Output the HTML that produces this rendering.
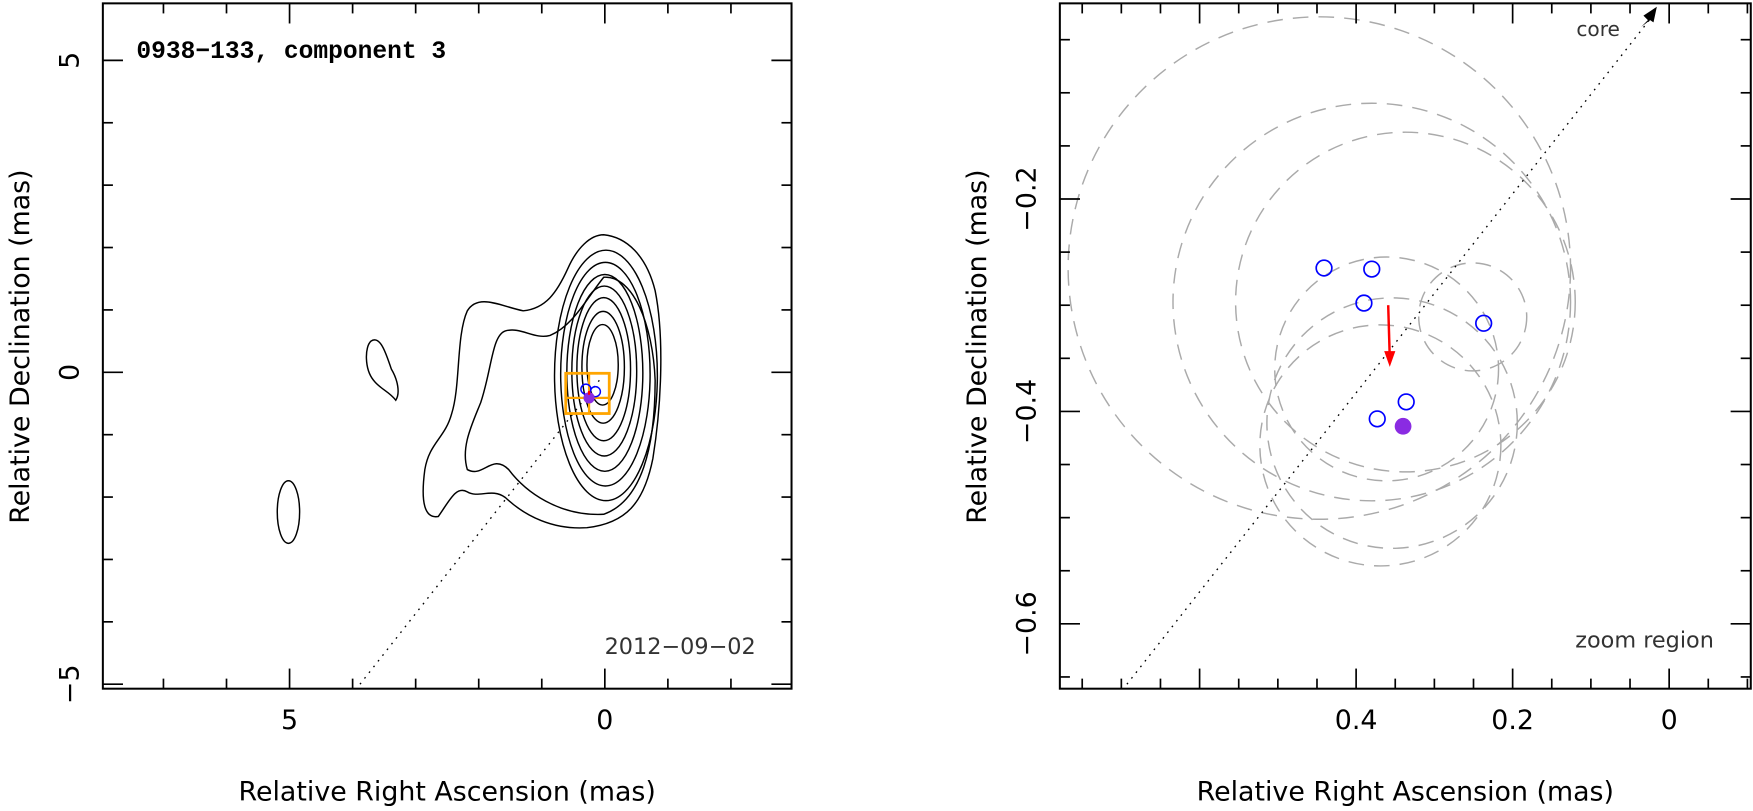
<!DOCTYPE html>
<html><head><meta charset="utf-8">
<style>
html,body{margin:0;padding:0;background:#fff;}
svg{display:block;font-family:"DejaVu Sans","Liberation Sans",sans-serif;}
</style></head>
<body>
<svg id="fig" width="1753" height="811" viewBox="0 0 1568 725.4" preserveAspectRatio="none" xmlns="http://www.w3.org/2000/svg">
<g id="left"></g>
<g id="right"></g>
</svg>
<script>
// ---------- LEFT PANEL DATA ----------
const leftXTicks = [5, 0];
const leftYTicks = [5, 0, -5];
const contourRx = [46, 40, 34, 29, 24, 19, 14];
const contourRy = [112, 100, 88, 76, 64, 50, 36];
const contourCy = [-0.05, -0.03, -0.01, 0.02, 0.05, 0.08, 0.12];
const leftCompRA = [0.3, 0.15];
const leftCompDec = [-0.27, -0.31];
const leftFilledRA = [0.25];
const leftFilledDec = [-0.41];
// ---------- RIGHT PANEL DATA ----------
const rightXTicks = [0.4, 0.2, 0];
const rightYTicks = [-0.2, -0.4, -0.6];
const circRA = [0.447, 0.380, 0.337, 0.361, 0.251, 0.354, 0.369];
const circDec = [-0.265, -0.297, -0.297, -0.360, -0.311, -0.411, -0.432];
const circR = [0.321, 0.254, 0.217, 0.143, 0.069, 0.160, 0.154];
const compRA = [0.441, 0.380, 0.390, 0.237, 0.336, 0.373];
const compDec = [-0.265, -0.266, -0.298, -0.317, -0.391, -0.407];
const filledRA = [0.340];
const filledDec = [-0.414];
const arrowRA = [0.359, 0.357];
const arrowDec = [-0.300, -0.358];

const NS = "http://www.w3.org/2000/svg";
function mk(parent, tag, attrs, txt){
  const e = document.createElementNS(NS, tag);
  for (const k in attrs) e.setAttribute(k, attrs[k]);
  if (txt !== undefined) e.textContent = txt;
  parent.appendChild(e);
  return e;
}

// ---------- LEFT ----------
const L = document.getElementById('left');
const lx = v => 541 - 56.4 * v;
const ly = v => 333 - 55.8 * v;
let outer = mk(L, 'path', {d:"M540,210 C560,212 578,228 586,260 C594,300 592,360 584,410 C576,450 560,468 525,472 C495,474 470,462 452,445 C440,436 428,446 418,440 C408,434 402,448 392,462 C380,464 376,450 380,420 C384,396 398,392 404,370 C412,345 408,300 418,278 C428,262 448,274 468,278 C488,276 498,262 508,240 C516,222 528,210 540,210 Z", fill:"none", stroke:"#000", "stroke-width":1.3});


let c2 = mk(L, 'path', {d:"M492,300 C512,292 524,268 540,248 C566,246 584,290 586,340 C586,400 574,448 540,460 C500,462 470,440 455,420 C440,405 432,428 418,420 C412,400 422,380 430,360 C440,330 440,300 452,296 C466,292 478,304 492,300 Z", fill:"none", stroke:"#000", "stroke-width":1.3});


for (let i = 0; i < contourRx.length; i++) {
  const e = mk(L, 'ellipse', {cx: lx(0) + 1 - i*0.5, cy: ly(contourCy[i]), rx: contourRx[i], ry: contourRy[i], fill:"none", stroke:"#000", "stroke-width":1.3});
  
  
}
let isl1 = mk(L, 'path', {d:"M332,305 C340,300 345,315 350,330 C356,340 358,352 354,358 C348,350 340,348 334,340 C326,330 326,310 332,305 Z", fill:"none", stroke:"#000", "stroke-width":1.3});


let isl2 = mk(L, 'ellipse', {cx:258, cy:458, rx:10, ry:28, fill:"none", stroke:"#000", "stroke-width":1.3});


let dl = mk(L, 'line', {x1:322, y1:612, x2:lx(0)-4, y2:ly(0)+6, stroke:"#000", "stroke-width":1.2, "stroke-dasharray":"1.5 5"});


let zb = mk(L, 'rect', {x:lx(0.62), y:ly(-0.016), width:lx(-0.07)-lx(0.62), height:ly(-0.661)-ly(-0.016), fill:"none", stroke:"#ffa500", "stroke-width":2.5});


let zh = mk(L, 'line', {x1:lx(0.62), x2:lx(-0.07), y1:ly(leftFilledDec[0]), y2:ly(leftFilledDec[0]), stroke:"#ffa500", "stroke-width":2});


let zv = mk(L, 'line', {x1:lx(leftFilledRA[0]), x2:lx(leftFilledRA[0]), y1:ly(-0.016), y2:ly(-0.661), stroke:"#ffa500", "stroke-width":2});


for (let i = 0; i < leftCompRA.length; i++) {
  const c = mk(L, 'circle', {cx: lx(leftCompRA[i]), cy: ly(leftCompDec[i]), r:4.5, fill:"none", stroke:"#0000ff", "stroke-width":1.3});
  
  
}
let lf = mk(L, 'circle', {cx: lx(leftFilledRA[0]), cy: ly(leftFilledDec[0]), r:5, fill:"#8a2be2"});


let la = mk(L, 'line', {x1:lx(leftFilledRA[0]), y1:ly(-0.3), x2:lx(leftFilledRA[0]), y2:ly(-0.36), stroke:"#ff0000", "stroke-width":2});


let lfr = mk(L, 'rect', {x:92, y:3, width:616, height:613, fill:"none", stroke:"#000", "stroke-width":1.8});


for (let v = -2; v <= 7; v++) {
  const major = (v % 5 === 0);
  const len = major ? 18 : 9;
  const x = lx(v);
  mk(L, 'line', {x1:x, x2:x, y1:616, y2:616-len, stroke:"#000", "stroke-width":1.5});
  mk(L, 'line', {x1:x, x2:x, y1:3, y2:3+len, stroke:"#000", "stroke-width":1.5});
}
for (let v = -5; v <= 5; v++) {
  const major = (v % 5 === 0);
  const len = major ? 18 : 9;
  const y = ly(v);
  mk(L, 'line', {x1:92, x2:92+len, y1:y, y2:y, stroke:"#000", "stroke-width":1.5});
  mk(L, 'line', {x1:708, x2:708-len, y1:y, y2:y, stroke:"#000", "stroke-width":1.5});
}
leftXTicks.forEach(v => {
  const t = mk(L, 'text', {x: lx(v), y: 652, "font-size":24, "text-anchor":"middle"}, String(v));
  
  
});
leftYTicks.forEach(v => {
  const t = mk(L, 'text', {x: 0, y: 0, "font-size":24, "text-anchor":"middle", transform:`translate(70,${ly(v)}) rotate(-90)`}, v < 0 ? '\u2212' + Math.abs(v) : String(v));
  
  
});
let lxt = mk(L, 'text', {x:400, y:716, "font-size":24, "text-anchor":"middle"}, "Relative Right Ascension (mas)");


let lyt = mk(L, 'text', {x:0, y:0, "font-size":24, "text-anchor":"middle", transform:"translate(26,310) rotate(-90)"}, "Relative Declination (mas)");


let ttl = mk(L, 'text', {x:122, y:52, "font-size":22, "font-weight":"bold", "font-family":"Liberation Mono, monospace"}, "0938\u2212133, component 3");


let dt = mk(L, 'text', {x:676, y:585, "font-size":20, "text-anchor":"end", fill:"#333"}, "2012\u221209\u221202");



// ---------- RIGHT ----------
const R = document.getElementById('right');
const rx = v => 1493 - 700 * v;
const ry = v => 178 - 950 * (v + 0.2);
const cp = mk(R, 'clipPath', {id:'rclip'});
mk(cp, 'rect', {x:948, y:3, width:618, height:613});
const RG = mk(R, 'g', {"clip-path":"url(#rclip)"});
for (let i = 0; i < circRA.length; i++) {
  const c = mk(RG, 'circle', {cx: rx(circRA[i]), cy: ry(circDec[i]), r: circR[i]*700, fill:"none", stroke:"#aaa", "stroke-width":1.3, "stroke-dasharray":"14 9"});
  
  
}
let rdl = mk(RG, 'line', {x1:1008, y1:612, x2:1476, y2:17, stroke:"#000", "stroke-width":1.2, "stroke-dasharray":"1.5 5"});


let rah = mk(R, 'path', {d:"M1482,6 L1470,14 L1474,18 L1468,24 L1476,18 L1479,20 Z", fill:"#000"});


for (let i = 0; i < compRA.length; i++) {
  const c = mk(RG, 'circle', {cx: rx(compRA[i]), cy: ry(compDec[i]), r:7, fill:"none", stroke:"#0000ff", "stroke-width":1.5});
  
  
}
for (let i = 0; i < filledRA.length; i++) {
  const c = mk(RG, 'circle', {cx: rx(filledRA[i]), cy: ry(filledDec[i]), r:7.5, fill:"#8a2be2"});
  
  
}
const ax1 = rx(arrowRA[0]), ay1 = ry(arrowDec[0]), ax2 = rx(arrowRA[1]), ay2 = ry(arrowDec[1]);
let arl = mk(R, 'line', {x1:ax1, y1:ay1, x2:ax2, y2:ay2-8, stroke:"#ff0000", "stroke-width":2.2});


let arh = mk(R, 'path', {d:`M${ax2},${ay2} L${ax2-5},${ay2-14} L${ax2+5},${ay2-14} Z`, fill:"#ff0000"});


let rfr = mk(R, 'rect', {x:948, y:3, width:618, height:613, fill:"none", stroke:"#000", "stroke-width":1.8});


for (let k = -2; k <= 15; k++) {
  const v = k * 0.05;
  const major = (k % 4 === 0);
  const len = major ? 18 : 9;
  const x = rx(v);
  if (x < 948 || x > 1566) continue;
  mk(R, 'line', {x1:x, x2:x, y1:616, y2:616-len, stroke:"#000", "stroke-width":1.5});
  mk(R, 'line', {x1:x, x2:x, y1:3, y2:3+len, stroke:"#000", "stroke-width":1.5});
}
for (let k = 0; k <= 14; k++) {
  const v = -k * 0.05;
  const major = (k % 4 === 0);
  const len = major ? 18 : 9;
  const y = ry(v);
  if (y < 3 || y > 616) continue;
  mk(R, 'line', {x1:948, x2:948+len, y1:y, y2:y, stroke:"#000", "stroke-width":1.5});
  mk(R, 'line', {x1:1566, x2:1566-len, y1:y, y2:y, stroke:"#000", "stroke-width":1.5});
}
rightXTicks.forEach(v => {
  const t = mk(R, 'text', {x: rx(v), y: 652, "font-size":24, "text-anchor":"middle"}, String(v));
  
  
});
rightYTicks.forEach(v => {
  const t = mk(R, 'text', {x:0, y:0, "font-size":24, "text-anchor":"middle", transform:`translate(926,${ry(v)}) rotate(-90)`}, '\u2212' + Math.abs(v));
  
  
});
let rxt = mk(R, 'text', {x:1257, y:716, "font-size":24, "text-anchor":"middle"}, "Relative Right Ascension (mas)");


let ryt = mk(R, 'text', {x:0, y:0, "font-size":24, "text-anchor":"middle", transform:"translate(882,310) rotate(-90)"}, "Relative Declination (mas)");


let core = mk(R, 'text', {x:1410, y:32, "font-size":18, fill:"#333"}, "core");


let zr = mk(R, 'text', {x:1533, y:579, "font-size":20, "text-anchor":"end", fill:"#333"}, "zoom region");


</script>
</body></html>
